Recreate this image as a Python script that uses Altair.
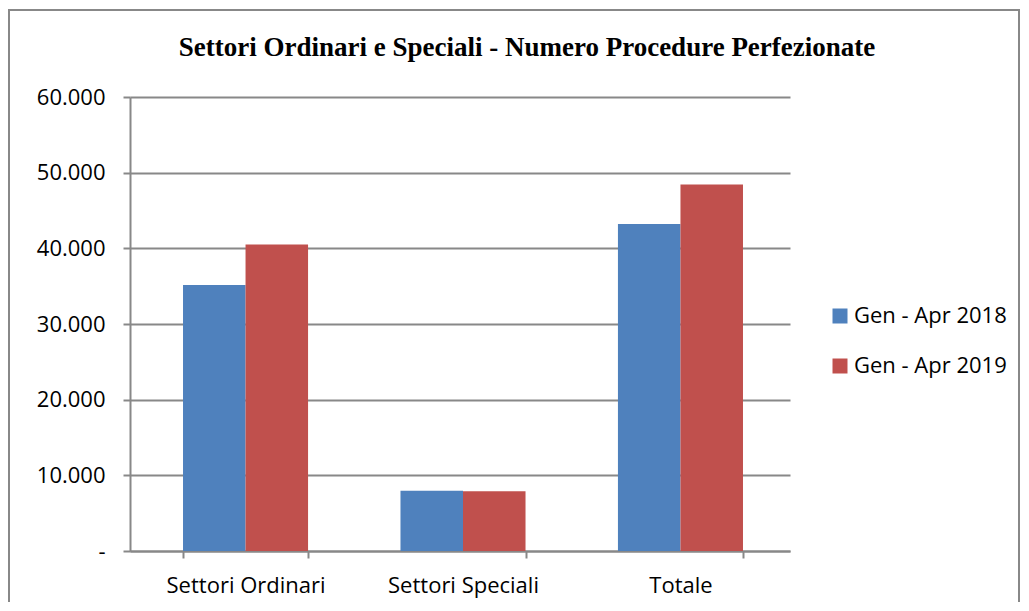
import altair as alt
import pandas as pd

categories = ["Settori Ordinari", "Settori Speciali", "Totale"]
series_names = ["Gen - Apr 2018", "Gen - Apr 2019"]
values_2018 = [35150, 7950, 43200]
values_2019 = [40500, 7900, 48450]
colors = ["#4F81BD", "#C0504D"]
title_text = "Settori Ordinari e Speciali - Numero Procedure Perfezionate"

rows = []
for c, a, b in zip(categories, values_2018, values_2019):
    rows.append({"cat": c, "serie": series_names[0], "val": a})
    rows.append({"cat": c, "serie": series_names[1], "val": b})
df = pd.DataFrame(rows)

FONT = "Open Sans"
FS = 22

bars = alt.Chart(df).mark_bar().encode(
    x=alt.X("cat:N", sort=categories, title=None,
            scale=alt.Scale(paddingInner=0.425, paddingOuter=0.23, align=0.53),
            axis=alt.Axis(labelAngle=0, labelFont=FONT, labelFontSize=FS, labelColor="#000",
                          labelPadding=17, tickBand="extent", tickSize=7, tickColor="#888",
                          tickWidth=2, domainColor="#888", domainWidth=2, grid=False)),
    xOffset=alt.XOffset("serie:N", sort=series_names),
    y=alt.Y("val:Q", title=None,
            scale=alt.Scale(domain=[0, 60000], nice=False),
            axis=alt.Axis(values=[0, 10000, 20000, 30000, 40000, 50000, 60000],
                          labelExpr="datum.value == 0 ? '-' : replace(format(datum.value, ','), ',', '.')",
                          labelFont=FONT, labelFontSize=FS, labelColor="#000", labelPadding=18,
                          tickSize=7, tickColor="#888", tickWidth=2,
                          domainColor="#888", domainWidth=2,
                          grid=True, gridColor="#888", gridWidth=2)),
    color=alt.Color("serie:N", sort=series_names,
                    scale=alt.Scale(domain=series_names, range=colors),
                    legend=alt.Legend(title=None, orient="none", legendX=699, legendY=208,
                                      symbolType="square", symbolSize=225, symbolStrokeWidth=0,
                                      labelFont=FONT, labelFontSize=FS, labelColor="#000",
                                      rowPadding=28, labelOffset=3, labelLimit=300)),
)

title = alt.Chart(pd.DataFrame({"t": [title_text]})).mark_text(
    font="Liberation Serif", fontSize=27, fontWeight="bold", color="#000", align="center", baseline="middle"
).encode(text="t:N", x=alt.value(397), y=alt.value(-49))

frame = alt.Chart(pd.DataFrame({"a": [1]})).mark_rect(
    fill=None, stroke="#888", strokeWidth=2, clip=False
).encode(x=alt.value(-121), x2=alt.value(889), y=alt.value(-87), y2=alt.value(620))

chart = alt.layer(frame, bars, title).properties(
    width=660, height=454,
    autosize=alt.AutoSizeParams(type="none"),
    padding={"left": 122, "top": 89, "right": 230, "bottom": 51},
).configure_view(stroke=None)

chart.save("out.html", embed_options={"renderer": "svg", "actions": False})
